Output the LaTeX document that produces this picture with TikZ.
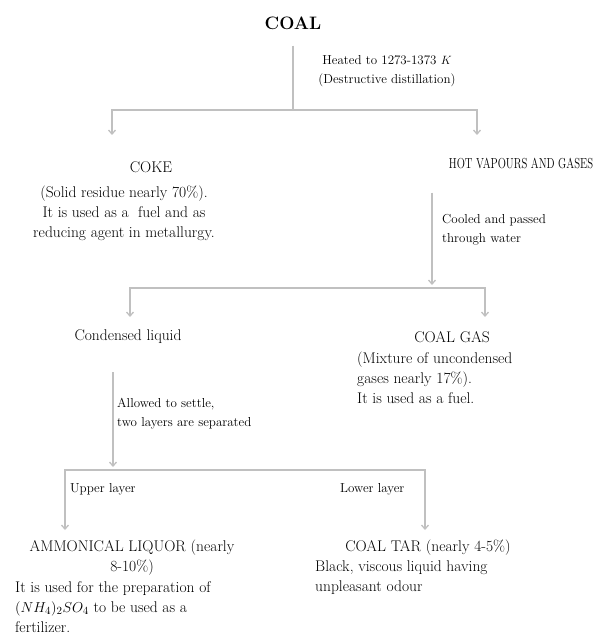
\documentclass[tikz,border=0pt]{standalone}
\usepackage{amsmath, amssymb}
\usepackage{graphicx}
\usepackage{xcolor}
\usepackage{tikz}
\usetikzlibrary{arrows.meta, positioning}
\definecolor{flowgray}{RGB}{192,192,192}

\begin{document}
\begin{tikzpicture}[
        x=1pt, y=-1pt,
        head/.style={font=\fontsize{18}{22}\selectfont\bfseries, inner sep=0pt},
        item/.style={font=\fontsize{15.5}{20}\selectfont, inner sep=0pt, align=center},
        note/.style={font=\fontsize{15.5}{20}\selectfont, inner sep=0pt, align=left},
        lab/.style={font=\fontsize{13}{19}\selectfont, inner sep=0pt, align=left},
        line/.style={flowgray, line width=1.3pt},
        arrow/.style={-{Straight Barb[length=4pt,width=7pt]}, flowgray, line width=1.3pt}
      ]
      \useasboundingbox (0,0) rectangle (597,636);

      % products
      \node[head] (coal) at (293,23) {COAL};
      \node[item] (coke) at (151,167) {COKE};
      \node[item] (cokenote) at (124,213) {(Solid residue nearly 70\%).\\ It is used as a\ \ fuel and as\\ reducing agent in metallurgy.};
      \node[item, font=\fontsize{14.5}{20}\selectfont] (hot) at (521,163) {\scalebox{0.74}[1]{HOT VAPOURS AND GASES}};
      \node[item] (cond) at (128,337) {Condensed liquid};
      \node[item] (gas) at (452,337) {COAL GAS};
      \node[note, anchor=west] (gasnote) at (357,378) {(Mixture of uncondensed\\gases nearly 17\%).\\It is used as a fuel.};
      \node[item] (amm) at (132,558) {AMMONICAL LIQUOR (nearly\\8-10\%)};
      \node[note, anchor=west] (ammnote) at (15,607) {It is used for the preparation of\\$(NH_4)_2SO_4$ to be used as a\\fertilizer.};
      \node[item] (tar) at (428,548) {COAL TAR (nearly 4-5\%)};
      \node[note, anchor=west] (tarnote) at (315,578) {Black, viscous liquid having\\unpleasant odour};

      % junctions
      \coordinate (split1) at (293,110);
      \coordinate (cokein) at (112,135);
      \coordinate (hotin)  at (477,135);
      \coordinate (split2) at (432,288);
      \coordinate (condin) at (130,317);
      \coordinate (gasin)  at (485,317);
      \coordinate (split3) at (113,470);
      \coordinate (ammin)  at (65,530);
      \coordinate (tarin)  at (425,530);

      % steps
      \node[lab, align=center] (heat) at (387,71) {Heated to 1273-1373 $K$\\(Destructive distillation)};
      \node[lab, anchor=west] (cool) at (442,230) {Cooled and passed\\through water};
      \node[lab, anchor=west] (settle) at (117,414) {Allowed to settle,\\two layers are separated};
      \node[lab, anchor=west] (upper) at (70,489) {Upper layer};
      \node[lab, anchor=west] (lower) at (340,489) {Lower layer};

      \draw[line, shorten <=16pt] (coal) -- (split1);
      \draw[arrow] (split1) -| (cokein);
      \draw[arrow] (split1) -| (hotin);
      \draw[arrow, shorten <=24pt, shorten >=3pt] (split2 |- hot.south) -- (split2);
      \draw[arrow] (split2) -| (condin);
      \draw[arrow] (split2) -| (gasin);
      \draw[arrow, shorten <=28pt, shorten >=3pt] (split3 |- cond.south) -- (split3);
      \draw[arrow] (split3) -| (ammin);
      \draw[arrow] (split3) -| (tarin);
    \end{tikzpicture}
\end{document}
